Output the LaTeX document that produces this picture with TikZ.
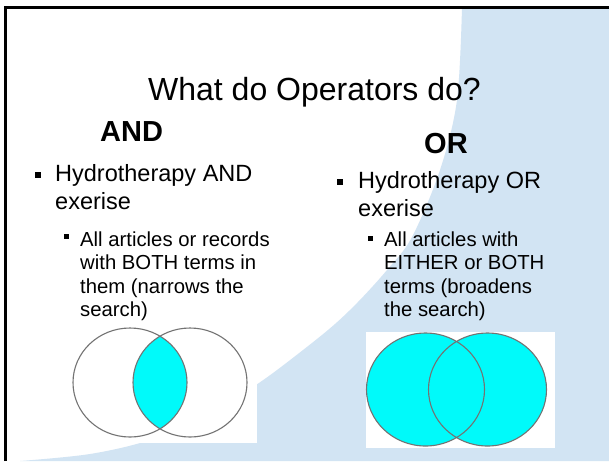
\documentclass[tikz,border=0pt]{standalone}
\usepackage{fontspec}
\setmainfont{Liberation Sans}
\definecolor{bgblue}{RGB}{210,228,243}
\definecolor{venncyan}{RGB}{0,250,250}
\definecolor{venngray}{RGB}{115,115,115}
\begin{document}
\begin{tikzpicture}[x=1pt,y=-1pt,
  txt/.style={inner sep=0pt, anchor=base west},
  titletxt/.style={inner sep=0pt, anchor=base east, font=\fontsize{32}{38}\selectfont},
  head/.style={txt, font=\fontsize{29}{33}\selectfont\bfseries},
  maintxt/.style={txt, font=\fontsize{23.5}{28}\selectfont},
  subtxt/.style={txt, font=\fontsize{20.3}{23}\selectfont},
  bul/.style={fill=black, inner sep=0pt, minimum size=6pt, rectangle},
  sbul/.style={fill=black, inner sep=0pt, minimum size=5pt, rectangle},
  vline/.style={draw=venngray, line width=1.1pt}]
\useasboundingbox (0,0) rectangle (609,461);
\fill[white] (0,0) rectangle (609,461);
% background swoosh
\fill[bgblue] plot[smooth, tension=0.55] coordinates {(462,7) (457,100) (440,170) (412,237) (387,270) (357,303) (328,330) (281,367) (253,387) (210,415) (150,440) (90,454) (20,461)}
  -- (609,461) -- (609,7) -- cycle;
% frame
\draw[line width=3pt] (5,461) -- (5,7.5) -- (609,7.5);
% title and headings
\node[titletxt] (title) at (481,100) {What do Operators do?};
\node[head] (andh) at (100,141) {AND};
\node[head] (orh) at (424,153) {OR};
% left column
\node[bul] (b1) at (38,174.5) {};
\node[maintxt] (l1) at (55,181) {Hydrotherapy AND};
\node[maintxt] (l2) at (55,209.5) {exerise};
\node[sbul] (b2) at (66,236.5) {};
\node[subtxt] (s1) at (80,246) {All articles or records};
\node[subtxt] (s2) at (80,269.5) {with BOTH terms in};
\node[subtxt] (s3) at (80,293) {them (narrows the};
\node[subtxt] (s4) at (80,316.5) {search)};
% right column
\node[bul] (b3) at (340,182) {};
\node[maintxt] (r1) at (358,188) {Hydrotherapy OR};
\node[maintxt] (r2) at (358,216.5) {exerise};
\node[sbul] (b4) at (370,238) {};
\node[subtxt] (t1) at (384,246) {All articles with};
\node[subtxt] (t2) at (384,269.5) {EITHER or BOTH};
\node[subtxt] (t3) at (384,293) {terms (broadens};
\node[subtxt] (t4) at (384,316.5) {the search)};
% AND venn
\fill[white] (68,325) rectangle (257,443);
\begin{scope}
  \clip (130,382.5) ellipse [x radius=57pt, y radius=54.5pt];
  \fill[venncyan] (190,382.5) ellipse [x radius=57pt, y radius=54.5pt];
\end{scope}
\draw[vline] (130,382.5) ellipse [x radius=57pt, y radius=54.5pt];
\draw[vline] (190,382.5) ellipse [x radius=57pt, y radius=54.5pt];
% OR venn
\fill[white] (366,332) rectangle (555,448);
\fill[venncyan] (425.5,389.5) ellipse [x radius=59pt, y radius=56.5pt];
\fill[venncyan] (487.5,389.5) ellipse [x radius=59pt, y radius=56.5pt];
\draw[vline] (425.5,389.5) ellipse [x radius=59pt, y radius=56.5pt];
\draw[vline] (487.5,389.5) ellipse [x radius=59pt, y radius=56.5pt];
\end{tikzpicture}
\end{document}
